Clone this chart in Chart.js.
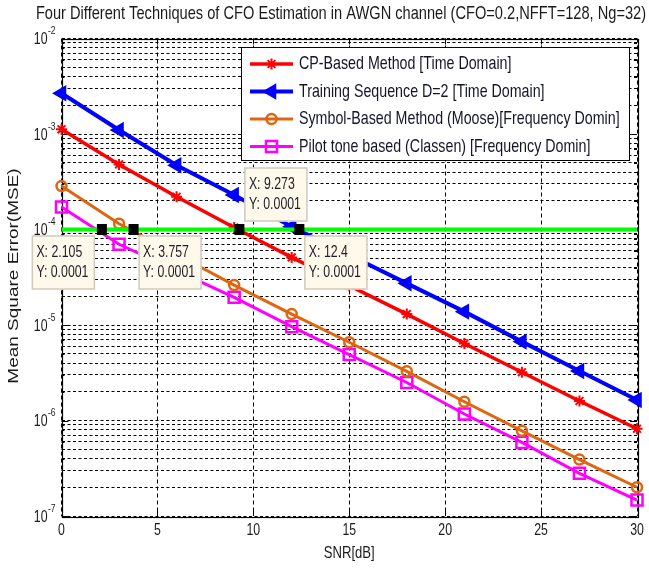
<!DOCTYPE html>
<html>
<head>
<meta charset="utf-8">
<title>CFO Estimation MSE</title>
<script src="https://cdn.jsdelivr.net/npm/chart.js@4.4.1/dist/chart.umd.min.js"></script>
<style>
  html, body { margin: 0; padding: 0; background: #fff; }
  canvas { display: block; }
</style>
</head>
<body>
<canvas id="mse-chart" width="649" height="574"></canvas>
<script>
// SNR points (dB) and MSE of each CFO estimator
const snr = [0, 3, 6, 9, 12, 15, 18, 21, 24, 27, 30];
const cpBased = [1.12e-3, 4.8e-4, 2.2e-4, 1.05e-4, 5.1e-5, 2.58e-5, 1.3e-5, 6.4e-6, 3.2e-6, 1.6e-6, 8.2e-7];
const trainingSeq = [2.67e-3, 1.1e-3, 4.7e-4, 2.3e-4, 1.07e-4, 5.4e-5, 2.73e-5, 1.38e-5, 6.7e-6, 3.3e-6, 1.64e-6];
const moose = [2.85e-4, 1.15e-4, 5.5e-5, 2.62e-5, 1.3e-5, 6.6e-6, 3.27e-6, 1.57e-6, 7.8e-7, 3.9e-7, 2.0e-7];
const classen = [1.72e-4, 7.0e-5, 3.7e-5, 1.95e-5, 9.6e-6, 4.9e-6, 2.5e-6, 1.17e-6, 5.9e-7, 2.8e-7, 1.47e-7];

// 1e-4 reference level and the data tips where each curve crosses it
const threshold = 1e-4;
const thresholdX = [0, 30];
const tipX = [2.105, 3.757, 9.273, 12.4];
const tipY = [0.0001, 0.0001, 0.0001, 0.0001];
const tipPlace = ['lowerLeft', 'lowerRight', 'upperRight', 'lowerRight'];

// axis ticks
const xTicks = [0, 5, 10, 15, 20, 25, 30];
const yExponents = [-7, -6, -5, -4, -3, -2];

const FONT = '"Liberation Sans", Arial, sans-serif';
const SX = 0.77; // text is drawn a bit narrow

function squeezed(c, text, x, y, size, align, rotate) {
  c.save();
  c.translate(x, y);
  c.scale(SX, 1);
  if (rotate) c.rotate(-Math.PI / 2);
  c.font = size + 'px ' + FONT;
  c.textAlign = align;
  c.textBaseline = 'middle';
  c.fillText(text, 0, 0);
  c.restore();
}

function series(values) {
  return snr.map((x, i) => ({ x: x, y: values[i] }));
}

const minorY = [];
yExponents.forEach(e => {
  for (let m = 1; m <= 9; m++) {
    if (e === -2 && m > 1) break;
    minorY.push(m * Math.pow(10, e));
  }
});

function drawTip(c, px, py, xVal, yVal, place) {
  const w = 63, h = 54;
  const left = place.endsWith('Left') ? px - 7 - w : px + 5;
  const top = place.startsWith('upper') ? py - 8 - h : py + 6;
  c.save();
  c.fillStyle = '#FFF9EC';
  c.fillRect(left, top, w, h);
  c.strokeStyle = '#CFCABD';
  c.lineWidth = 1.5;
  c.strokeRect(left + 0.5, top + 0.5, w - 1, h - 1);
  c.fillStyle = '#1c1c24';
  squeezed(c, 'X: ' + xVal, left + 4.5, top + 17, 16, 'left');
  squeezed(c, 'Y: ' + yVal, left + 4.5, top + 37, 16, 'left');
  c.fillStyle = '#000';
  c.fillRect(px - 5, py - 5.5, 10, 11);
  c.restore();
}

const matlabAxes = {
  id: 'matlabAxes',
  beforeDraw(chart) {
    const c = chart.ctx;
    c.save();
    c.fillStyle = '#fff';
    c.fillRect(0, 0, chart.width, chart.height);
    c.restore();
  },
  beforeDatasetsDraw(chart) {
    const c = chart.ctx;
    const a = chart.chartArea;
    const xs = chart.scales.x, ys = chart.scales.y;
    c.save();
    c.strokeStyle = '#000';
    c.lineWidth = 1;
    c.beginPath();
    // inner ticks on all four sides
    xTicks.slice(1, -1).forEach(v => {
      const x = Math.round(xs.getPixelForValue(v)) + 0.5;
      c.moveTo(x, a.bottom); c.lineTo(x, a.bottom - 6);
      c.moveTo(x, a.top); c.lineTo(x, a.top + 6);
    });
    minorY.forEach(v => {
      const y = Math.round(ys.getPixelForValue(v)) + 0.5;
      const len = Math.abs(Math.log10(v) - Math.round(Math.log10(v))) < 1e-9 ? 7 : 3;
      c.moveTo(a.left, y); c.lineTo(a.left + len, y);
      c.moveTo(a.right, y); c.lineTo(a.right - len, y);
    });
    c.stroke();
    c.lineWidth = 1.2;
    c.strokeRect(Math.round(a.left) + 0.5, Math.round(a.top) + 0.5,
      Math.round(a.right - a.left), Math.round(a.bottom - a.top));
    c.restore();
  },
  afterDatasetsDraw(chart) {
    const c = chart.ctx;
    const xs = chart.scales.x, ys = chart.scales.y;

    // legend box
    const lx = 241.5, ly = 47.5, lw = 388, lh = 113;
    c.save();
    c.fillStyle = '#fff';
    c.fillRect(lx, ly, lw, lh);
    c.strokeStyle = '#000';
    c.lineWidth = 1;
    c.strokeRect(lx, ly, lw, lh);
    chart.data.datasets.forEach((ds, i) => {
      if (!ds.inLegend) return;
      const y = 64 + i * 27.5;
      c.strokeStyle = ds.borderColor;
      c.lineWidth = ds.borderWidth;
      c.beginPath();
      c.moveTo(250, y); c.lineTo(293, y);
      c.stroke();
      c.fillStyle = ds.pointBackgroundColor;
      c.lineWidth = ds.pointBorderWidth;
      Chart.helpers.drawPoint(c, {
        pointStyle: ds.pointStyle, rotation: ds.pointRotation || 0,
        radius: ds.pointRadius, borderWidth: ds.pointBorderWidth
      }, 271.5, y);
      c.fillStyle = '#15152a';
      squeezed(c, ds.label, 299, y, 18.5, 'left');
    });
    c.restore();

    // data tips at the 1e-4 crossings
    tipX.forEach((xv, i) => {
      drawTip(c, xs.getPixelForValue(xv), ys.getPixelForValue(tipY[i]), xv, tipY[i], tipPlace[i]);
    });
  },
  afterDraw(chart) {
    const c = chart.ctx;
    const a = chart.chartArea;
    const xs = chart.scales.x, ys = chart.scales.y;
    c.save();
    c.fillStyle = '#1a1a1a';
    xTicks.forEach(v => squeezed(c, String(v), xs.getPixelForValue(v), 531, 16, 'center'));
    yExponents.forEach(e => {
      const y = ys.getPixelForValue(Math.pow(10, e));
      squeezed(c, '10', 47.5, y + 1.5, 16, 'right');
      squeezed(c, String(e), 48, y - 7.5, 11, 'left');
    });
    squeezed(c, 'SNR[dB]', (a.left + a.right) / 2, 553, 17, 'center');
    squeezed(c, 'Mean Square Error(MSE)', 14, 276, 19, 'center', true);
    squeezed(c, 'Four Different Techniques of CFO Estimation in AWGN channel (CFO=0.2,NFFT=128, Ng=32)',
      341, 14, 19, 'center');
    c.restore();
  }
};

const ctx = document.getElementById('mse-chart').getContext('2d');

new Chart(ctx, {
  type: 'line',
  data: {
    datasets: [
      {
        label: 'CP-Based Method [Time Domain]', inLegend: true,
        data: series(cpBased),
        borderColor: '#FF0000', pointBackgroundColor: '#FF0000', pointBorderColor: '#FF0000',
        borderWidth: 3.5, pointStyle: 'star', pointRadius: 5.5, pointBorderWidth: 2
      },
      {
        label: 'Training Sequence D=2 [Time Domain]', inLegend: true,
        data: series(trainingSeq),
        borderColor: '#0000FF', pointBackgroundColor: '#0000FF', pointBorderColor: '#0000FF',
        borderWidth: 4, pointStyle: 'triangle', pointRotation: -90, pointRadius: 7.5, pointBorderWidth: 2
      },
      {
        label: 'Symbol-Based Method (Moose)[Frequency Domin]', inLegend: true,
        data: series(moose),
        borderColor: '#E0650F', pointBackgroundColor: 'rgba(0,0,0,0)', pointBorderColor: '#E0650F',
        borderWidth: 3, pointStyle: 'circle', pointRadius: 5, pointBorderWidth: 2.5
      },
      {
        label: 'Pilot tone based (Classen) [Frequency Domin]', inLegend: true,
        data: series(classen),
        borderColor: '#FF00FF', pointBackgroundColor: 'rgba(0,0,0,0)', pointBorderColor: '#FF00FF',
        borderWidth: 3, pointStyle: 'rect', pointRadius: 7.8, pointBorderWidth: 2.5
      },
      {
        label: 'MSE = 1e-4', inLegend: false,
        data: thresholdX.map(x => ({ x: x, y: threshold })),
        borderColor: '#00FF00', borderWidth: 4, pointRadius: 0, order: -1
      }
    ]
  },
  options: {
    responsive: false,
    animation: false,
    events: [],
    layout: { padding: { left: 0, right: 12, top: 38.5, bottom: 0 } },
    elements: { line: { tension: 0 } },
    datasets: { line: { clip: false } },
    plugins: { legend: { display: false }, tooltip: { enabled: false }, title: { display: false } },
    scales: {
      x: {
        type: 'linear', min: 0, max: 30,
        afterBuildTicks: s => { s.ticks = xTicks.map(v => ({ value: v })); },
        afterFit: s => { s.height = 58; },
        ticks: { display: false },
        grid: { color: '#000', lineWidth: 1, drawTicks: false },
        border: { display: false, dash: [4, 3] }
      },
      y: {
        type: 'logarithmic', min: 1e-7, max: 1e-2,
        afterBuildTicks: s => { s.ticks = minorY.map(v => ({ value: v })); },
        afterFit: s => { s.width = 61.5; },
        ticks: { display: false },
        grid: { color: '#000', lineWidth: 1, drawTicks: false },
        border: { display: false, dash: [3, 2.5] }
      }
    }
  },
  plugins: [matlabAxes]
});
</script>
</body>
</html>
